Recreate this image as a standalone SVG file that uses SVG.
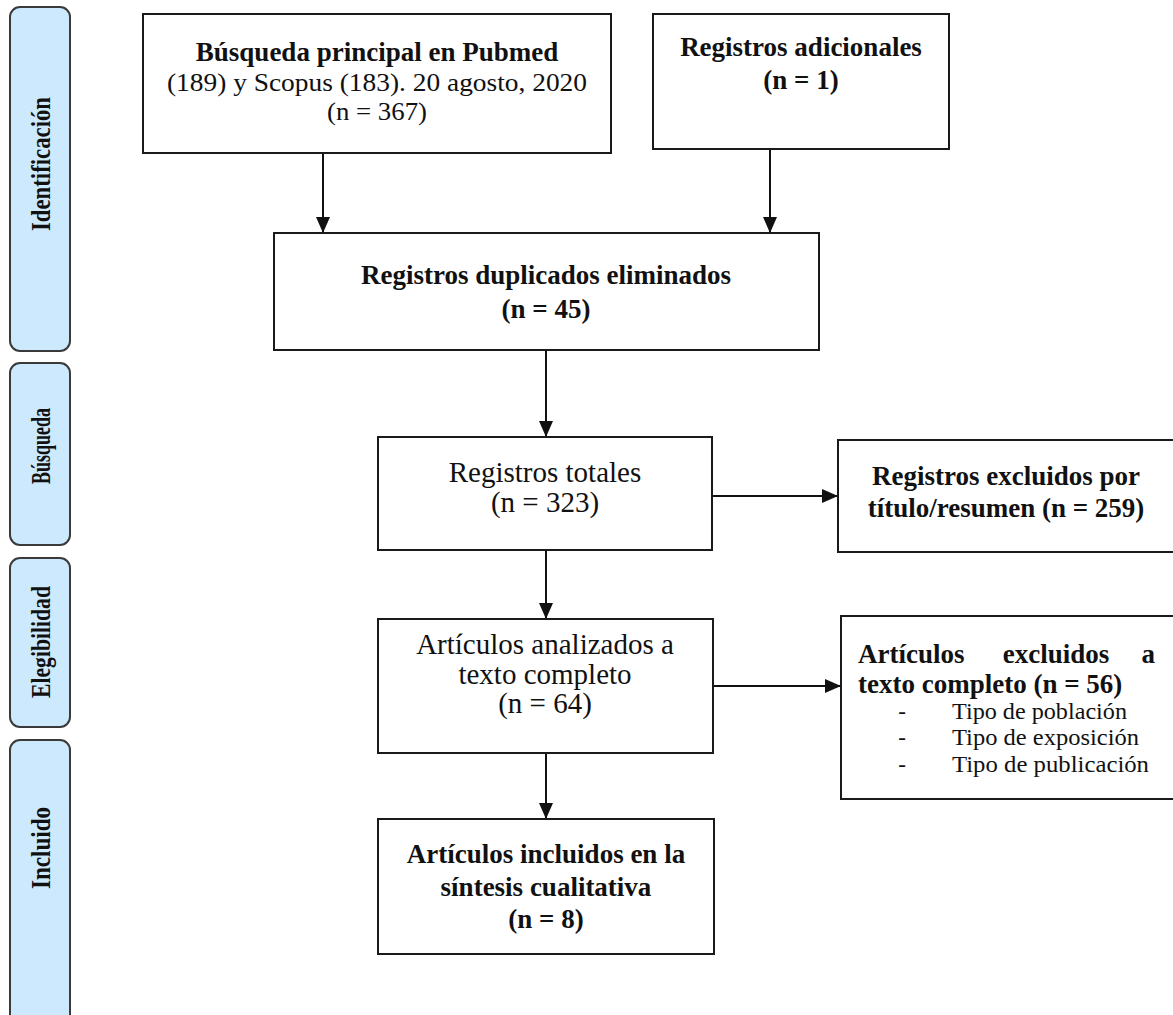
<svg xmlns="http://www.w3.org/2000/svg" width="1173" height="1015" viewBox="0 0 1173 1015">
<style>
.bar{fill:#cde9fd;stroke:#3a3a3a;stroke-width:2}
.box{fill:#fff;stroke:#1a1a1a;stroke-width:2}
.side{font-family:"Liberation Serif","Times New Roman",serif;font-weight:bold;font-size:28px;fill:#111;text-anchor:middle}
.b{font-family:"Liberation Serif","Times New Roman",serif;font-weight:bold;font-size:27px;fill:#111;text-anchor:middle}
.r{font-family:"Liberation Serif","Times New Roman",serif;font-size:25px;fill:#111;text-anchor:middle}
.r29{font-family:"Liberation Serif","Times New Roman",serif;font-size:29px;fill:#111;text-anchor:middle}
.bl{font-family:"Liberation Serif","Times New Roman",serif;font-size:23px;fill:#111}
.conn{stroke:#111;stroke-width:2;fill:none;marker-end:url(#ah)}
</style>
<defs>
<marker id="ah" markerUnits="userSpaceOnUse" markerWidth="16" markerHeight="14" refX="16" refY="7" orient="auto">
<path d="M0,0 L16,7 L0,14 z" fill="#111"/>
</marker>
<clipPath id="clip7"><rect x="841" y="616" width="334" height="161"/></clipPath>
</defs>
<rect width="1173" height="1015" fill="#fff"/>

<g id="phase-identificacion">
<rect class="bar" x="10" y="7" width="60" height="344" rx="10"/>
<text class="side" transform="translate(50,164) rotate(-90)" textLength="134" lengthAdjust="spacingAndGlyphs">Identificación</text>
</g>
<g id="phase-busqueda">
<rect class="bar" x="10" y="363" width="60" height="182" rx="10"/>
<text class="side" transform="translate(50,446) rotate(-90)" textLength="76" lengthAdjust="spacingAndGlyphs">Búsqueda</text>
</g>
<g id="phase-elegibilidad">
<rect class="bar" x="10" y="558" width="60" height="169" rx="10"/>
<text class="side" transform="translate(50,642) rotate(-90)" textLength="112" lengthAdjust="spacingAndGlyphs">Elegibilidad</text>
</g>
<g id="phase-incluido">
<rect class="bar" x="10" y="740" width="60" height="300" rx="10"/>
<text class="side" transform="translate(50,848) rotate(-90)" textLength="82" lengthAdjust="spacingAndGlyphs">Incluido</text>
</g>

<g id="connectors">
<path class="conn" d="M323,153 V233"/>
<path class="conn" d="M770,149 V233"/>
<path class="conn" d="M546,350 V437"/>
<path class="conn" d="M712,496 H838"/>
<path class="conn" d="M546,550 V619"/>
<path class="conn" d="M713,686 H841"/>
<path class="conn" d="M546,753 V819"/>
</g>

<g id="n1">
<rect class="box" x="143" y="14" width="468" height="139"/>
<text class="b" x="377" y="61">Búsqueda principal en Pubmed</text>
<text class="r" x="377" y="91" textLength="420" lengthAdjust="spacingAndGlyphs">(189) y Scopus (183). 20 agosto, 2020</text>
<text class="r" x="377" y="120" textLength="100" lengthAdjust="spacingAndGlyphs">(n = 367)</text>
</g>
<g id="n2">
<rect class="box" x="653" y="14" width="296" height="135"/>
<text class="b" x="801" y="56">Registros adicionales</text>
<text class="b" x="801" y="89">(n = 1)</text>
</g>
<g id="n3">
<rect class="box" x="274" y="233" width="545" height="117"/>
<text class="b" x="546" y="284">Registros duplicados eliminados</text>
<text class="b" x="546" y="318">(n = 45)</text>
</g>
<g id="n4">
<rect class="box" x="378" y="437" width="334" height="113"/>
<text class="r29" x="545" y="482">Registros totales</text>
<text class="r29" x="545" y="512">(n = 323)</text>
</g>
<g id="n5">
<rect class="box" x="838" y="440" width="340" height="112"/>
<text class="b" x="1006" y="485">Registros excluidos por</text>
<text class="b" x="1006" y="517">título/resumen (n = 259)</text>
</g>
<g id="n6">
<rect class="box" x="378" y="619" width="335" height="134"/>
<text class="r29" x="545" y="654">Artículos analizados a</text>
<text class="r29" x="545" y="684">texto completo</text>
<text class="r29" x="545" y="713">(n = 64)</text>
</g>
<g id="n7">
<rect class="box" x="841" y="616" width="340" height="183"/>
<g clip-path="url(#clip7)">
<text class="b" x="858" y="663" style="text-anchor:start">Artículos</text>
<text class="b" x="1056" y="663">excluidos</text>
<text class="b" x="1155" y="663" style="text-anchor:end">a</text>
<text class="b" x="858" y="693" style="text-anchor:start">texto completo (n = 56)</text>
<text class="bl" x="902" y="719" text-anchor="middle">-</text>
<text class="bl" x="952" y="719" textLength="175" lengthAdjust="spacingAndGlyphs">Tipo de población</text>
<text class="bl" x="902" y="745" text-anchor="middle">-</text>
<text class="bl" x="952" y="745" textLength="187" lengthAdjust="spacingAndGlyphs">Tipo de exposición</text>
<text class="bl" x="902" y="772" text-anchor="middle">-</text>
<text class="bl" x="952" y="772" textLength="197" lengthAdjust="spacingAndGlyphs">Tipo de publicación</text>
</g>
</g>
<g id="n8">
<rect class="box" x="378" y="819" width="336" height="135"/>
<text class="b" x="546" y="863">Artículos incluidos en la</text>
<text class="b" x="546" y="896">síntesis cualitativa</text>
<text class="b" x="546" y="928">(n = 8)</text>
</g>
</svg>
